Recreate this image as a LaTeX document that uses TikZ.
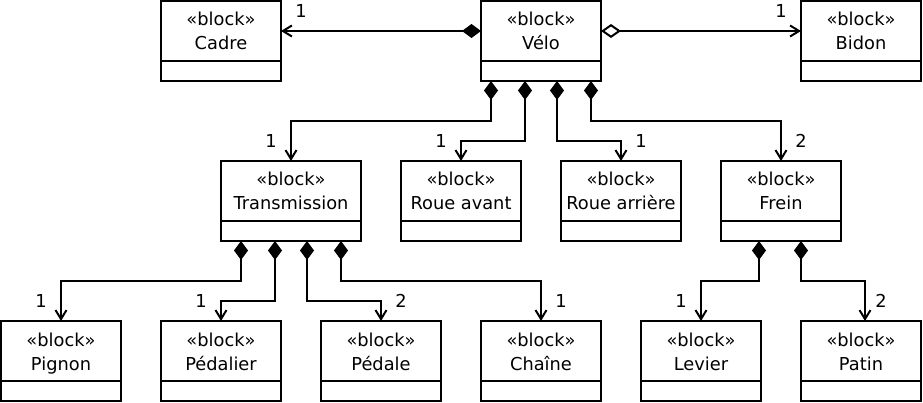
\documentclass[tikz,border=0pt]{standalone}
\usepackage{fontspec}
\setmainfont{DejaVu Sans}
\usepackage{tikz}
\usetikzlibrary{positioning}
\usetikzlibrary{arrows.meta}
\tikzset{head/.style={draw, line width=2pt, minimum width=#1, minimum height=60pt, inner sep=0pt, outer sep=0pt, align=center, text height=49pt, text depth=11pt}, head/.default=120pt}
\tikzset{attr/.style={draw, line width=2pt, minimum width=#1, minimum height=20pt, inner sep=0pt, outer sep=0pt}, attr/.default=120pt}
\tikzset{comp/.style={line width=2pt, {Diamond[length=19pt,width=14pt]}-{Straight Barb[length=9pt,width=11pt]}}}
\tikzset{aggr/.style={line width=2pt, {Diamond[open,length=20pt,width=14pt]}-{Straight Barb[length=9pt,width=11pt]}}}
\tikzset{mult/.style={inner sep=0pt}}
\begin{document}
\begin{tikzpicture}[x=1pt, y=-1pt, font=\fontsize{17.8}{24}\selectfont]
\useasboundingbox (0,0) rectangle (923,403);
% first row
\node[head, anchor=north west] (cadre) at (161,1) {«block»\\Cadre};
\node[head, right=200pt of cadre] (velo) {«block»\\Vélo};
\node[head, right=200pt of velo] (bidon) {«block»\\Bidon};
% second row
\node[head=140pt, anchor=north west] (trans) at (221,161) {«block»\\Transmission};
\node[head, right=40pt of trans] (ravant) {«block»\\Roue avant};
\node[head, right=40pt of ravant] (rarr) {«block»\\Roue arrière};
\node[head, right=40pt of rarr] (frein) {«block»\\Frein};
% third row
\node[head, anchor=north west] (pignon) at (1,321) {«block»\\Pignon};
\node[head, right=40pt of pignon] (pedalier) {«block»\\Pédalier};
\node[head, right=40pt of pedalier] (pedale) {«block»\\Pédale};
\node[head, right=40pt of pedale] (chaine) {«block»\\Chaîne};
\node[head, right=40pt of chaine] (levier) {«block»\\Levier};
\node[head, right=40pt of levier] (patin) {«block»\\Patin};

\foreach \b in {cadre,velo,bidon,ravant,rarr,frein,pignon,pedalier,pedale,chaine,levier,patin}
  \node[attr, below=0pt of \b] (\b-a) {};
\node[attr=140pt, below=0pt of trans] (trans-a) {};

\draw[comp] (velo.west) -- (cadre.east) node[mult, xshift=20pt, yshift=20pt] {1};
\draw[aggr] (velo.east) -- (bidon.west) node[mult, xshift=-20pt, yshift=20pt] {1};

\draw[comp] ([xshift=-50pt]velo-a.south) -- ++(0,40) -| (trans.north) node[mult, xshift=-20pt, yshift=20pt] {1};
\draw[comp] ([xshift=-16pt]velo-a.south) -- ++(0,60) -| (ravant.north) node[mult, xshift=-20pt, yshift=20pt] {1};
\draw[comp] ([xshift=16pt]velo-a.south) -- ++(0,60) -| (rarr.north) node[mult, xshift=20pt, yshift=20pt] {1};
\draw[comp] ([xshift=50pt]velo-a.south) -- ++(0,40) -| (frein.north) node[mult, xshift=20pt, yshift=20pt] {2};

\draw[comp] ([xshift=-50pt]trans-a.south) -- ++(0,40) -| (pignon.north) node[mult, xshift=-20pt, yshift=20pt] {1};
\draw[comp] ([xshift=-16pt]trans-a.south) -- ++(0,60) -| (pedalier.north) node[mult, xshift=-20pt, yshift=20pt] {1};
\draw[comp] ([xshift=16pt]trans-a.south) -- ++(0,60) -| (pedale.north) node[mult, xshift=20pt, yshift=20pt] {2};
\draw[comp] ([xshift=50pt]trans-a.south) -- ++(0,40) -| (chaine.north) node[mult, xshift=20pt, yshift=20pt] {1};

\draw[comp] ([xshift=-22pt]frein-a.south) -- ++(0,40) -| (levier.north) node[mult, xshift=-20pt, yshift=20pt] {1};
\draw[comp] ([xshift=20pt]frein-a.south) -- ++(0,40) -| ([xshift=4pt]patin.north) node[mult, xshift=16pt, yshift=20pt] {2};
\end{tikzpicture}
\end{document}
